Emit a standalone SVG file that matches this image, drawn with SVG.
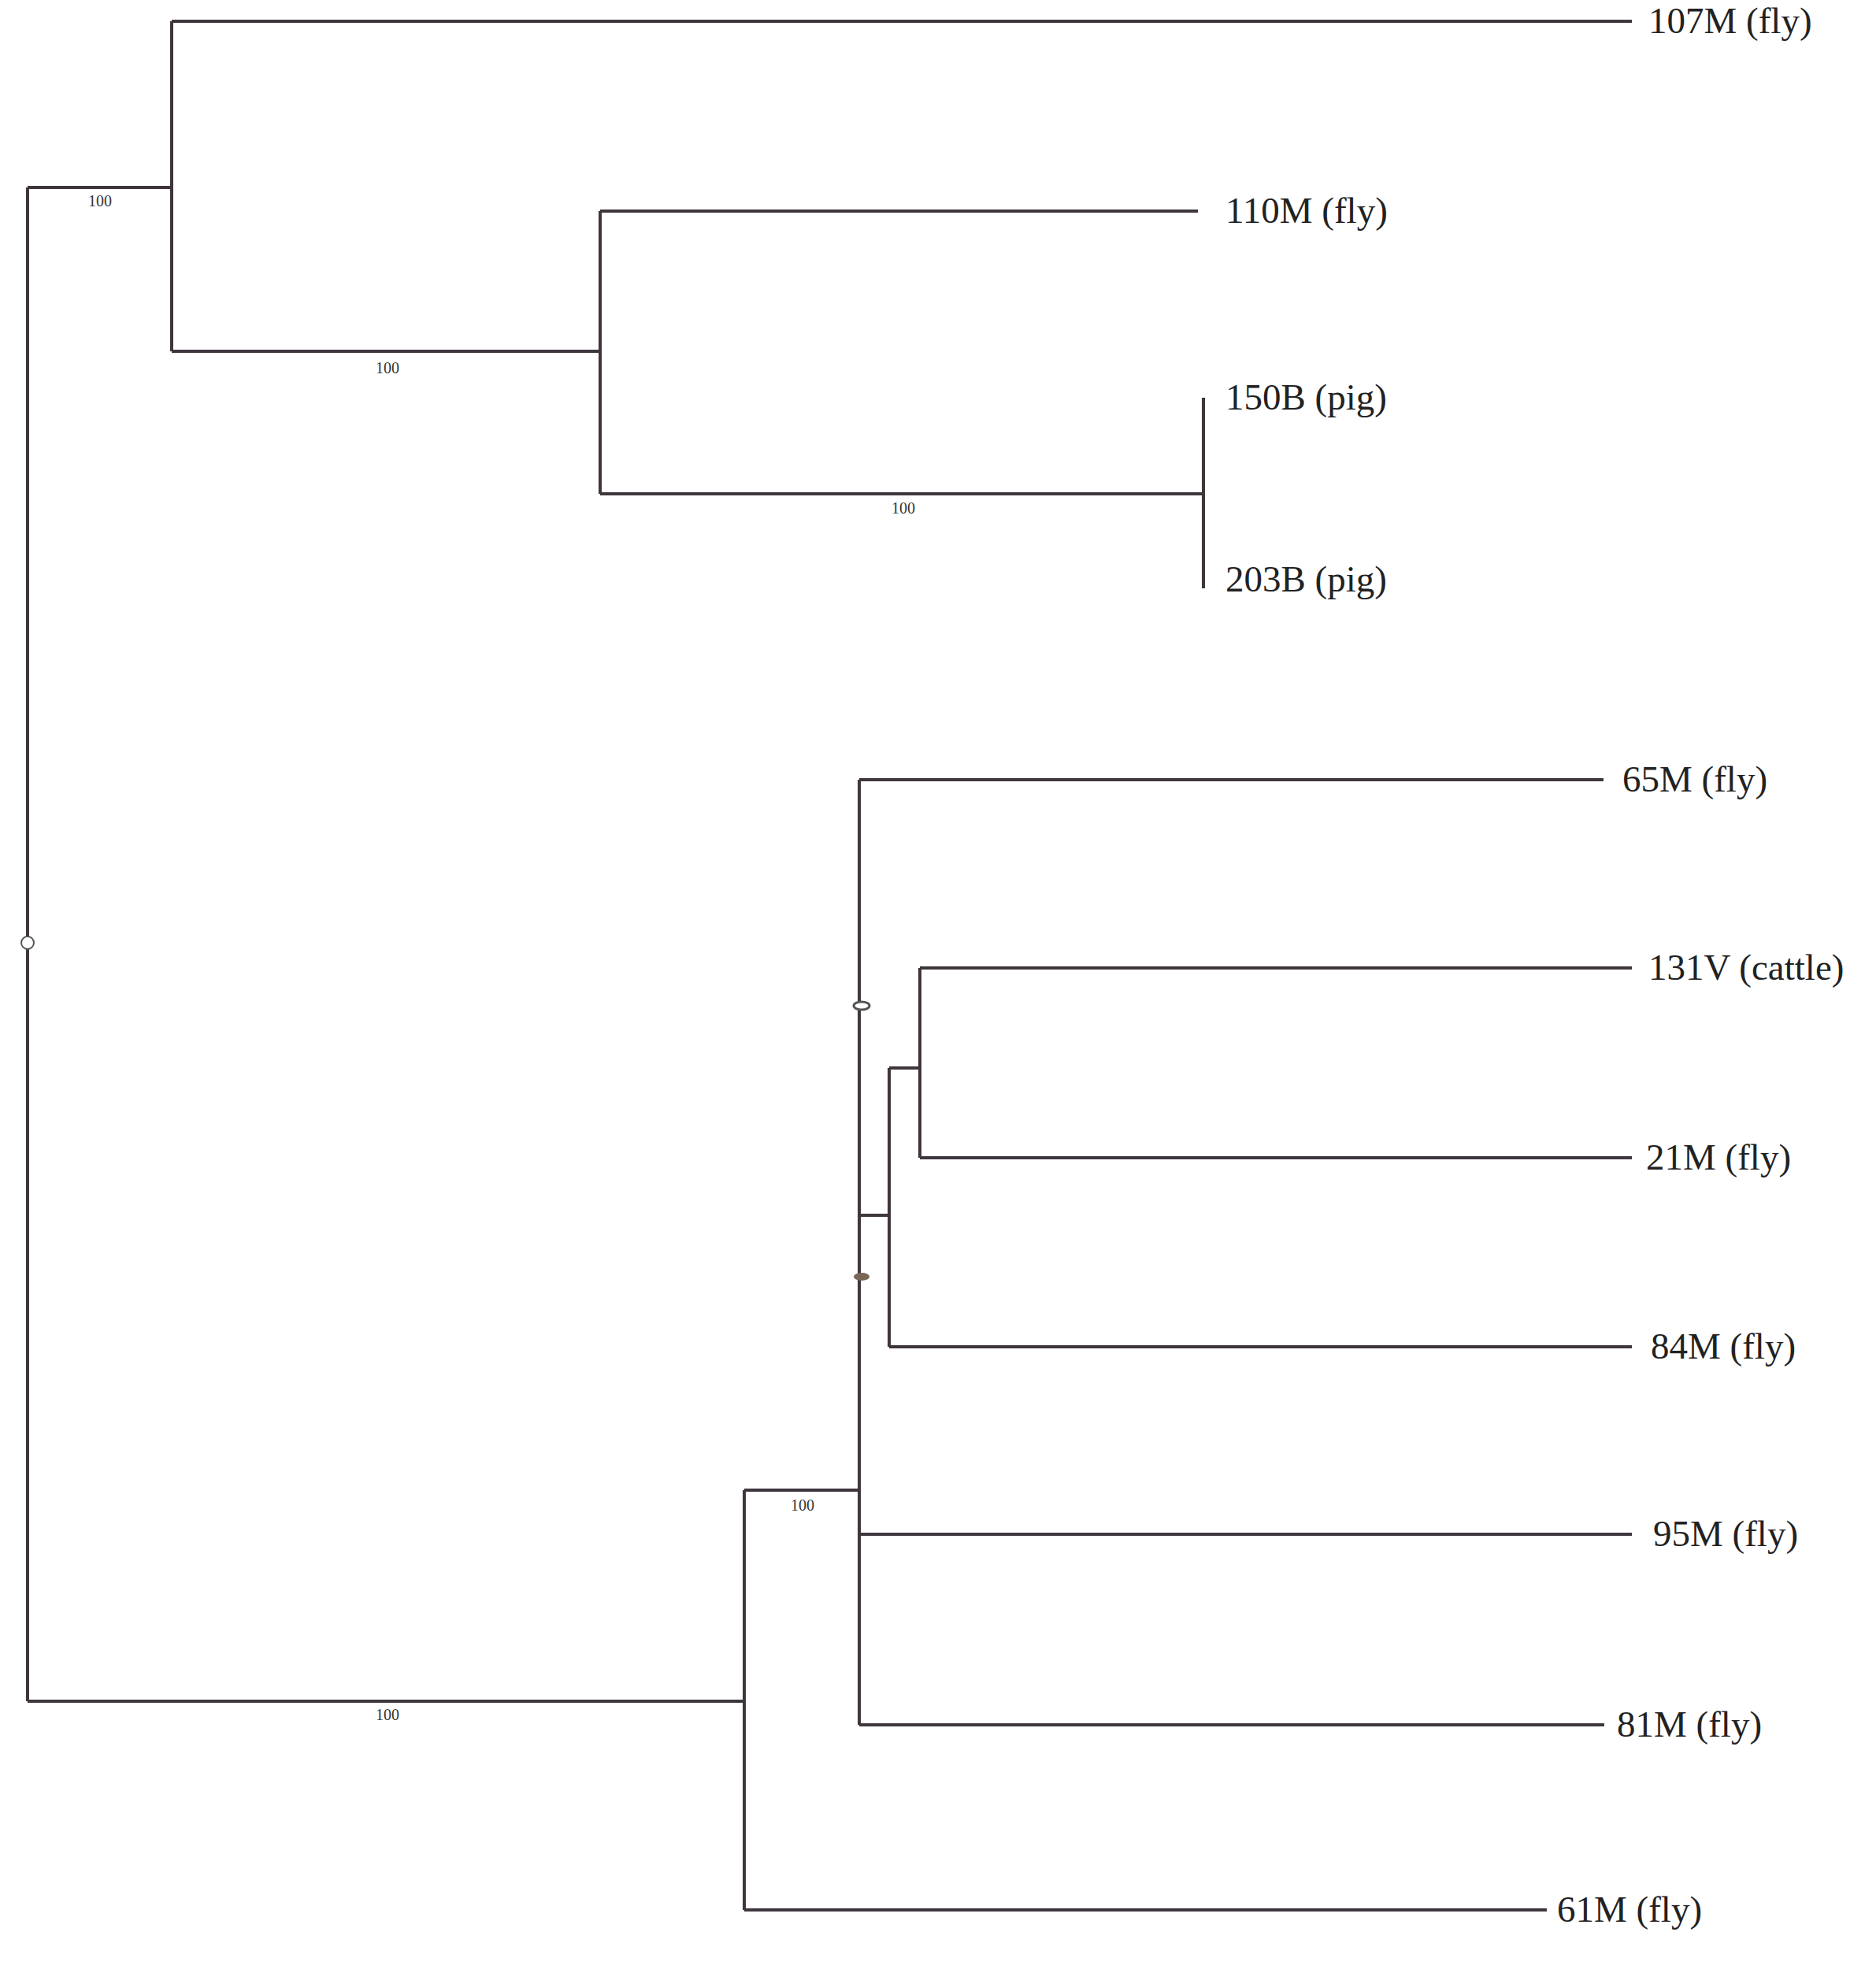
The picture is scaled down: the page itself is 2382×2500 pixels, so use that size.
<svg xmlns="http://www.w3.org/2000/svg" width="2382" height="2500" viewBox="0 0 2382 2500">
<style>
.e{stroke:#3f363d;stroke-width:4;fill:none}
.t{font-family:"Liberation Serif",serif;font-size:47px;fill:#222}
.s{font-family:"Liberation Serif",serif;font-size:20px;fill:#333;text-anchor:middle}
</style>
<rect width="2382" height="2500" fill="#fff"/>
<g id="connectors">
<path class="e" d="M35 238V2160M35 238H218M218 27V446M218 27H2072M218 446H762M762 268V627M762 268H1521M762 627H1528M1528 505V747"/>
<path class="e" d="M35 2160H945M945 1892V2425M945 2425H1964M945 1892H1091M1091 990V2190M1091 990H2036M1091 1948H2072M1091 2190H2037M1091 1543H1129M1129 1356V1710M1129 1710H2072M1129 1356H1168M1168 1229V1470M1168 1229H2072M1168 1470H2072"/>
<circle cx="35" cy="1197" r="8" fill="#fff" stroke="#555" stroke-width="2"/>
<ellipse cx="1094" cy="1277" rx="10" ry="5" fill="#fff" stroke="#555" stroke-width="3"/>
<ellipse cx="1094" cy="1621" rx="10" ry="5" fill="#776655"/>
<text class="s" x="127" y="262">100</text>
<text class="s" x="492" y="474">100</text>
<text class="s" x="1147" y="652">100</text>
<text class="s" x="492" y="2184">100</text>
<text class="s" x="1019" y="1918">100</text>
</g>
<g id="n107M"><text class="t" x="2093" y="42">107M (fly)</text></g>
<g id="n110M"><text class="t" x="1556" y="283">110M (fly)</text></g>
<g id="n150B"><text class="t" x="1556" y="520">150B (pig)</text></g>
<g id="n203B"><text class="t" x="1556" y="751">203B (pig)</text></g>
<g id="n65M"><text class="t" x="2060" y="1005">65M (fly)</text></g>
<g id="n131V"><text class="t" x="2093" y="1244">131V (cattle)</text></g>
<g id="n21M"><text class="t" x="2090" y="1485">21M (fly)</text></g>
<g id="n84M"><text class="t" x="2096" y="1725">84M (fly)</text></g>
<g id="n95M"><text class="t" x="2099" y="1963">95M (fly)</text></g>
<g id="n81M"><text class="t" x="2053" y="2205">81M (fly)</text></g>
<g id="n61M"><text class="t" x="1977" y="2440">61M (fly)</text></g>
</svg>
